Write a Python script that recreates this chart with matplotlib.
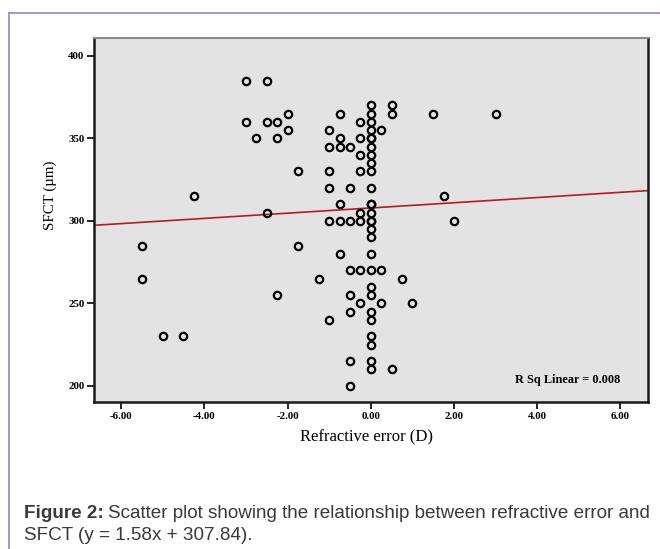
import matplotlib
matplotlib.use("Agg")
import matplotlib.pyplot as plt
from matplotlib.lines import Line2D
import numpy as np

# ---- data ----
refractive_error = [
    -5.5, -5.5, -5.0, -4.5, -4.25,
    -3.0, -2.5, -2.0, -3.0, -2.5, -2.25, -2.0, -2.75, -2.25,
    -1.75, -1.75, -2.5, -2.25, -1.25,
    -1.0, -1.0, -1.0, -1.0, -1.0, -1.0,
    -0.75, -0.75, -0.75, -0.75, -0.75, -0.75,
    -0.5, -0.5, -0.5, -0.5, -0.5, -0.5, -0.5, -0.5,
    -0.25, -0.25, -0.25, -0.25, -0.25, -0.25, -0.25, -0.25,
    0, 0, 0, 0, 0, 0, 0, 0, 0, 0, 0, 0, 0, 0, 0, 0, 0, 0, 0, 0, 0, 0, 0, 0, 0, 0, 0, 0,
    0.25, 0.25, 0.25, 0.5, 0.5, 0.5,
    0.75, 1.0, 1.5, 1.75, 2.0, 3.0,
]
sfct = [
    285, 265, 230, 230, 315,
    385, 385, 365, 360, 360, 360, 355, 350, 350,
    330, 285, 305, 255, 265,
    355, 345, 330, 320, 300, 240,
    365, 350, 345, 310, 300, 280,
    345, 320, 300, 270, 255, 245, 215, 200,
    360, 350, 340, 330, 305, 300, 270, 250,
    370, 365, 360, 355, 350, 350, 345, 340, 335, 330, 320, 310, 310, 305,
    300, 300, 295, 290, 280, 270, 260, 255, 245, 240, 230, 225, 215, 210,
    355, 270, 250, 370, 365, 210,
    265, 250, 365, 315, 300, 365,
]
fit_slope = 1.58
fit_intercept = 307.84
r_sq = 0.008
x_ticks = [-6, -4, -2, 0, 2, 4, 6]
y_ticks = [200, 250, 300, 350, 400]

# ---- figure ----
fig = plt.figure(figsize=(6.60, 5.49), dpi=100)
fig.patch.set_facecolor("white")

# outer lavender frame (top and left edges)
frame_col = "#a08ccf"
fig.add_artist(Line2D([9/660, 1.0], [1 - 13/549, 1 - 13/549], color=frame_col, lw=1.3,
                      transform=fig.transFigure))
fig.add_artist(Line2D([9/660, 9/660], [0.0, 1 - 13/549], color=frame_col, lw=1.3,
                      transform=fig.transFigure))

ax = fig.add_axes([94/660, 1 - 402/549, (647.5 - 94)/660, (402 - 38)/549])
ax.set_facecolor("#e3e3e3")

xlim = (-6.65, 6.65)
ax.set_xlim(*xlim)
ax.set_ylim(190.3, 410.8)

ax.plot(refractive_error, sfct, linestyle="none", marker="o", markersize=5.3,
        markerfacecolor="none", markeredgecolor="black", markeredgewidth=1.6, zorder=3)

xs = np.array(xlim)
ax.plot(xs, fit_slope * xs + fit_intercept, color="#b01e23", lw=1.2, zorder=2)

ax.set_xticks(x_ticks)
ax.set_xticklabels([f"{v:.2f}" for v in x_ticks])
ax.set_yticks(y_ticks)
ax.set_yticklabels([str(v) for v in y_ticks])
ax.tick_params(direction="out", length=5, width=1.2, color="black", pad=2,
               labelsize=7.8, top=False, right=False)
for lab in ax.get_xticklabels() + ax.get_yticklabels():
    lab.set_fontfamily("Liberation Serif")
    lab.set_fontweight("bold")

for side in ["left", "bottom", "right"]:
    ax.spines[side].set_color("#1a1a1a")
    ax.spines[side].set_linewidth(1.8)
ax.spines["top"].set_color("#8a8a8a")
ax.spines["top"].set_linewidth(1.5)

ax.text(6.0, 203.5, f"R Sq Linear = {r_sq:.3f}", ha="right", va="center",
        fontsize=8.8, fontweight="bold", family="Liberation Serif")

fig.text(50/660, 1 - 195/549, "SFCT (µm)", rotation=90, ha="center", va="center",
         fontsize=10.8, family="Liberation Serif")
fig.text(367/660, 1 - 437/549, "Refractive error (D)", ha="center", va="center",
         fontsize=12, family="Liberation Serif")

# caption
cap_col = "#3a3a3a"
cap_fs = 13.6
t1 = fig.text(24/660, 1 - 513/549, "Figure 2:", ha="left", va="center",
              fontsize=cap_fs, fontweight="bold", family="Liberation Sans", color=cap_col)
fig.canvas.draw()
bb = t1.get_window_extent(renderer=fig.canvas.get_renderer())
fig.text((bb.x1 + 4) / fig.bbox.width, 1 - 513/549,
         "Scatter plot showing the relationship between refractive error and",
         ha="left", va="center", fontsize=cap_fs, family="Liberation Sans", color=cap_col)
fig.text(24/660, 1 - 535/549, "SFCT (y = 1.58x + 307.84).", ha="left", va="center",
         fontsize=cap_fs, family="Liberation Sans", color=cap_col)

fig.savefig("out.png", dpi=100)
